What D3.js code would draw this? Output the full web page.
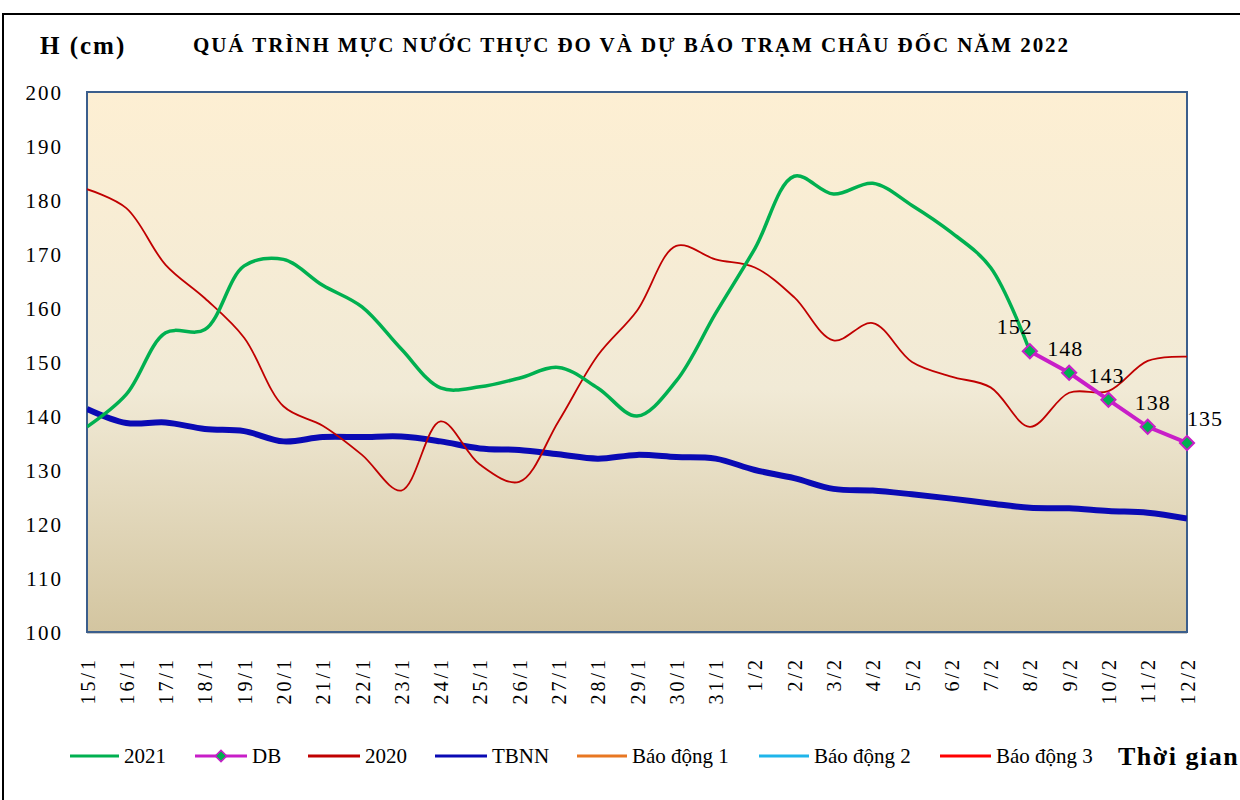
<!DOCTYPE html>
<html><head><meta charset="utf-8">
<script src="https://cdn.jsdelivr.net/npm/d3@7"></script>
<style>
html,body{margin:0;padding:0;background:#fff;}
svg text{font-family:"Liberation Serif","Times New Roman",serif;fill:#000;}
</style></head>
<body><svg id="c" width="1240" height="800"></svg>
<script>
const dates = ["15/1","16/1","17/1","18/1","19/1","20/1","21/1","22/1","23/1","24/1","25/1","26/1","27/1","28/1","29/1","30/1","31/1","1/2","2/2","3/2","4/2","5/2","6/2","7/2","8/2","9/2","10/2","11/2","12/2"];
const h2021 = [138,144,155.4,156,167.8,169,164.2,160.2,152.4,145.2,145.4,147,149,145.2,140,146.5,159,171,184.4,181.1,183.1,179,174,167.5,152,null,null,null,null];
const hDB = [null,null,null,null,null,null,null,null,null,null,null,null,null,null,null,null,null,null,null,null,null,null,null,null,152,148,143,138,135];
const h2020 = [182,178.5,168,161.8,154.5,141.8,138.2,132.8,126.2,139,131,127.8,139,151.2,159.5,171.5,169,167.5,162,154,157.2,150,147.3,145.3,138,144.3,144.6,150.2,151];
const hTBNN = [141.3,138.7,138.8,137.6,137.2,135.3,136.1,136.1,136.2,135.3,134,133.7,132.9,132.1,132.8,132.4,132.1,130,128.5,126.5,126.2,125.5,124.7,123.8,123,122.9,122.4,122.1,121];
const bd1 = dates.map(() => 350);
const bd2 = dates.map(() => 400);
const bd3 = dates.map(() => 450);
const yTicks = [100,110,120,130,140,150,160,170,180,190,200];
const legendNames = ["2021","DB","2020","TBNN","Báo động 1","Báo động 2","Báo động 3"];
const titleText = "QUÁ TRÌNH MỰC NƯỚC THỰC ĐO VÀ DỰ BÁO TRẠM CHÂU ĐỐC NĂM  2022";

const svg = d3.select("#c");
const L = 87, R = 1187, T = 92, B = 632;
const x = d3.scalePoint().domain(dates).range([L, R]);
const y = d3.scaleLinear().domain([100, 200]).range([B, T]);

// outer frame
svg.append("rect").attr("x",3).attr("y",14).attr("width",1260).attr("height",800)
  .attr("fill","none").attr("stroke","#000").attr("stroke-width",2);

const defs = svg.append("defs");
const g = defs.append("linearGradient").attr("id","bg").attr("x1",0).attr("y1",0).attr("x2",0).attr("y2",1);
g.append("stop").attr("offset","0").attr("stop-color","#FDEFD3");
g.append("stop").attr("offset","0.55").attr("stop-color","#F1EAD6");
g.append("stop").attr("offset","1").attr("stop-color","#D3C5A0");
defs.append("clipPath").attr("id","clip").append("rect").attr("x",L).attr("y",T-4).attr("width",R-L).attr("height",B-T+4);

svg.append("rect").attr("x",L).attr("y",T).attr("width",R-L).attr("height",B-T).attr("fill","url(#bg)");
svg.append("line").attr("x1",L).attr("x2",R).attr("y1",B+1).attr("y2",B+1).attr("stroke","#B8B8B8").attr("stroke-width",1.5);
svg.append("rect").attr("x",L).attr("y",T).attr("width",R-L).attr("height",B-T)
  .attr("fill","none").attr("stroke","#3B5E8C").attr("stroke-width",2);

// y axis labels
const yAxis = d3.axisLeft(y).tickValues(yTicks).tickSize(0).tickPadding(0);
const ya = svg.append("g").attr("transform",`translate(63,0)`).call(yAxis);
ya.select(".domain").remove();
ya.selectAll("text").style("font-size","21px").style("letter-spacing","2px").attr("dy","0.35em").attr("fill","#222");

// x axis labels
const xAxis = d3.axisBottom(x).tickSize(0).tickPadding(0);
const xa = svg.append("g").attr("transform",`translate(0,657)`).call(xAxis);
xa.select(".domain").remove();
xa.selectAll("text").style("font-size","20px").style("letter-spacing","3px")
  .attr("text-anchor","end").attr("dy","0.35em").attr("y",0)
  .attr("transform","rotate(-90)").attr("x",0).attr("fill","#222");

const plot = svg.append("g").attr("clip-path","url(#clip)");
function line(data, curve){
  return d3.line().defined(d => d != null).x((d,i) => x(dates[i])).y(d => y(d)).curve(curve)(data);
}
const smooth = d3.curveCatmullRom.alpha(0.5);
plot.append("path").attr("d", line(bd1, d3.curveLinear)).attr("fill","none").attr("stroke","#E87722").attr("stroke-width",2.5);
plot.append("path").attr("d", line(bd2, d3.curveLinear)).attr("fill","none").attr("stroke","#1FB5EA").attr("stroke-width",2.5);
plot.append("path").attr("d", line(bd3, d3.curveLinear)).attr("fill","none").attr("stroke","#FF0000").attr("stroke-width",2.5);
plot.append("path").attr("d", line(hTBNN, smooth)).attr("fill","none").attr("stroke","#0A0AB4").attr("stroke-width",6);
plot.append("path").attr("d", line(h2020, smooth)).attr("fill","none").attr("stroke","#C00000").attr("stroke-width",1.8);
plot.append("path").attr("d", line(h2021, smooth)).attr("fill","none").attr("stroke","#00B050").attr("stroke-width",3.5);
plot.append("path").attr("d", line(hDB, d3.curveLinear)).attr("fill","none").attr("stroke","#C81EC8").attr("stroke-width",4);

const square = d3.symbol().type(d3.symbolSquare).size(100);
const dbPts = hDB.map((v,i) => ({v, d: dates[i]})).filter(p => p.v != null);
svg.selectAll(".mk").data(dbPts).enter().append("path")
  .attr("d", square).attr("transform", p => `translate(${x(p.d)},${y(p.v)}) rotate(45)`)
  .attr("fill","#00B050").attr("stroke","#C81EC8").attr("stroke-width",2);
const labelDx = [-15,-4,-2,5,18];
svg.selectAll(".lb").data(dbPts).enter().append("text")
  .attr("x",(p,i) => x(p.d) + labelDx[i]).attr("y", p => y(p.v) - 17)
  .attr("text-anchor","middle").style("font-size","22px").style("letter-spacing","1px")
  .text(p => d3.format("d")(p.v));

// titles
svg.append("text").attr("x",40).attr("y",54).style("font-size","25px").style("font-weight","bold").style("letter-spacing","2px").text("H (cm)");
svg.append("text").attr("x",193).attr("y",52).style("font-size","21px").style("font-weight","bold")
  .attr("textLength",875).attr("lengthAdjust","spacing").text(titleText);

// legend
const legColors = ["#00B050","#C81EC8","#C00000","#0A0AB4","#E87722","#1FB5EA","#FF0000"];
const legX = [70,195,308,435,577,759,940];
const legW = [49,52,52,52,50,50,51];
const ly = 756;
legendNames.forEach((n,i) => {
  svg.append("line").attr("x1",legX[i]).attr("x2",legX[i]+legW[i]).attr("y1",ly).attr("y2",ly)
    .attr("stroke",legColors[i]).attr("stroke-width",3);
  if (i===1) svg.append("path").attr("d", d3.symbol().type(d3.symbolSquare).size(64)())
    .attr("transform",`translate(${legX[i]+legW[i]/2},${ly}) rotate(45)`).attr("fill","#00B050").attr("stroke","#C81EC8").attr("stroke-width",1.5);
  svg.append("text").attr("x",legX[i]+legW[i]+5).attr("y",ly+7).style("font-size","21px").attr("fill","#222").text(n);
});
svg.append("text").attr("x",1118).attr("y",765).style("font-size","26px").style("font-weight","bold").style("letter-spacing","1.5px").text("Thời gian");
</script></body></html>
